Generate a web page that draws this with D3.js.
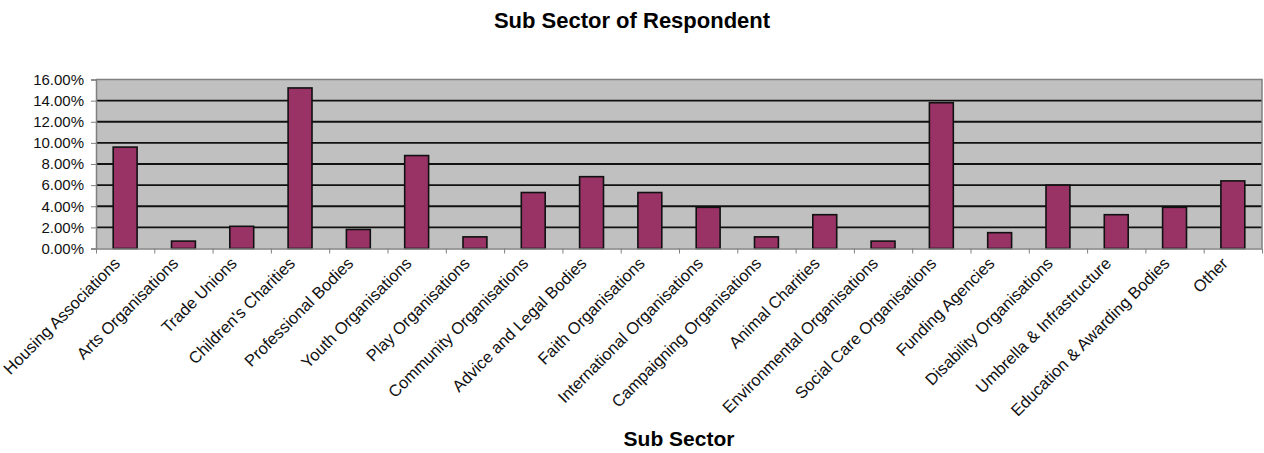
<!DOCTYPE html>
<html>
<head>
<meta charset="utf-8">
<script src="https://cdn.jsdelivr.net/npm/d3@7"></script>
<style>
    body { margin: 0; background: #fff; }
    svg { display: block; font-family: "Liberation Sans", Arial, sans-serif; }
</style>
</head>
<body>
<div id="chart"></div>
<script>
// Sub sector shares (percent)
const categories = [
    'Housing Associations', 'Arts Organisations', 'Trade Unions', "Children's Charities",
    'Professional Bodies', 'Youth Organisations', 'Play Organisations', 'Community Organisations',
    'Advice and Legal Bodies', 'Faith Organisations', 'International Organisations',
    'Campaigning Organisations', 'Animal Charities', 'Environmental Organisations',
    'Social Care Organisations', 'Funding Agencies', 'Disability Organisations',
    'Umbrella & Infrastructure', 'Education & Awarding Bodies', 'Other'
];
const shares = [9.6, 0.7, 2.1, 15.2, 1.8, 8.8, 1.1, 5.3, 6.8, 5.3, 3.9, 1.1, 3.2, 0.7, 13.8, 1.5, 6.0, 3.2, 3.9, 6.4];
const yTicks = [0, 2, 4, 6, 8, 10, 12, 14, 16];

const width = 1264, height = 453;
const margin = { top: 79.5, right: 2, bottom: 204.5, left: 96 };
const innerW = width - margin.left - margin.right;
const innerH = height - margin.top - margin.bottom;

const svg = d3.select('#chart').append('svg')
    .attr('width', width)
    .attr('height', height);

svg.append('text')
    .attr('x', width / 2)
    .attr('y', 28)
    .attr('text-anchor', 'middle')
    .attr('font-size', 22)
    .attr('font-weight', 'bold')
    .text('Sub Sector of Respondent');

const plot = svg.append('g')
    .attr('transform', `translate(${margin.left},${margin.top})`);

const x = d3.scaleBand()
    .domain(categories)
    .range([0, innerW])
    .paddingInner(0.59)
    .paddingOuter(0.295);

// used only to place the tick marks between categories
const xEdges = d3.scaleLinear().domain([0, categories.length]).range([0, innerW]);

const y = d3.scaleLinear().domain([0, 16]).range([innerH, 0]);

plot.append('rect')
    .attr('width', innerW)
    .attr('height', innerH)
    .attr('fill', '#c0c0c0');

// gridlines
plot.append('g')
    .selectAll('line')
    .data(yTicks.filter(d => d > 0 && d < 16))
    .enter()
    .append('line')
    .attr('x1', 0)
    .attr('x2', innerW)
    .attr('y1', d => y(d))
    .attr('y2', d => y(d))
    .attr('stroke', '#111')
    .attr('stroke-width', 1.8);

// top and right border
plot.append('path')
    .attr('d', `M0,${y(16)}H${innerW}V${innerH}`)
    .attr('fill', 'none')
    .attr('stroke', '#808080')
    .attr('stroke-width', 1.5);

plot.append('g')
    .selectAll('rect')
    .data(shares)
    .enter()
    .append('rect')
    .attr('x', (d, i) => x(categories[i]))
    .attr('y', d => y(d))
    .attr('width', x.bandwidth())
    .attr('height', d => innerH - y(d))
    .attr('fill', '#993366')
    .attr('stroke', '#111')
    .attr('stroke-width', 1.6);

const yAxis = plot.append('g')
    .call(d3.axisLeft(y).tickValues(yTicks).tickSize(5).tickPadding(7)
        .tickFormat(d => d.toFixed(2) + '%'));
yAxis.select('.domain').attr('stroke', '#808080').attr('stroke-width', 1.5);
yAxis.selectAll('.tick line').attr('stroke', '#808080');
yAxis.selectAll('.tick text')
    .attr('font-size', 15)
    .attr('font-family', '"Liberation Sans", Arial, sans-serif')
    .attr('fill', '#111');

const xAxis = plot.append('g')
    .attr('transform', `translate(0,${innerH})`)
    .call(d3.axisBottom(xEdges).tickValues(d3.range(categories.length + 1))
        .tickSize(5).tickFormat('').tickSizeOuter(0));
xAxis.select('.domain').attr('stroke', '#808080').attr('stroke-width', 1.5);
xAxis.selectAll('.tick line').attr('stroke', '#808080');

plot.append('g')
    .selectAll('text')
    .data(categories)
    .enter()
    .append('text')
    .attr('transform', d => `translate(${x(d) + x.bandwidth() / 2 - 4},${innerH + 16}) rotate(-45)`)
    .attr('text-anchor', 'end')
    .attr('font-size', 16.5)
    .attr('fill', '#111')
    .text(d => d);

svg.append('text')
    .attr('x', margin.left + innerW / 2)
    .attr('y', 446)
    .attr('text-anchor', 'middle')
    .attr('font-size', 21)
    .attr('font-weight', 'bold')
    .text('Sub Sector');
</script>
</body>
</html>
